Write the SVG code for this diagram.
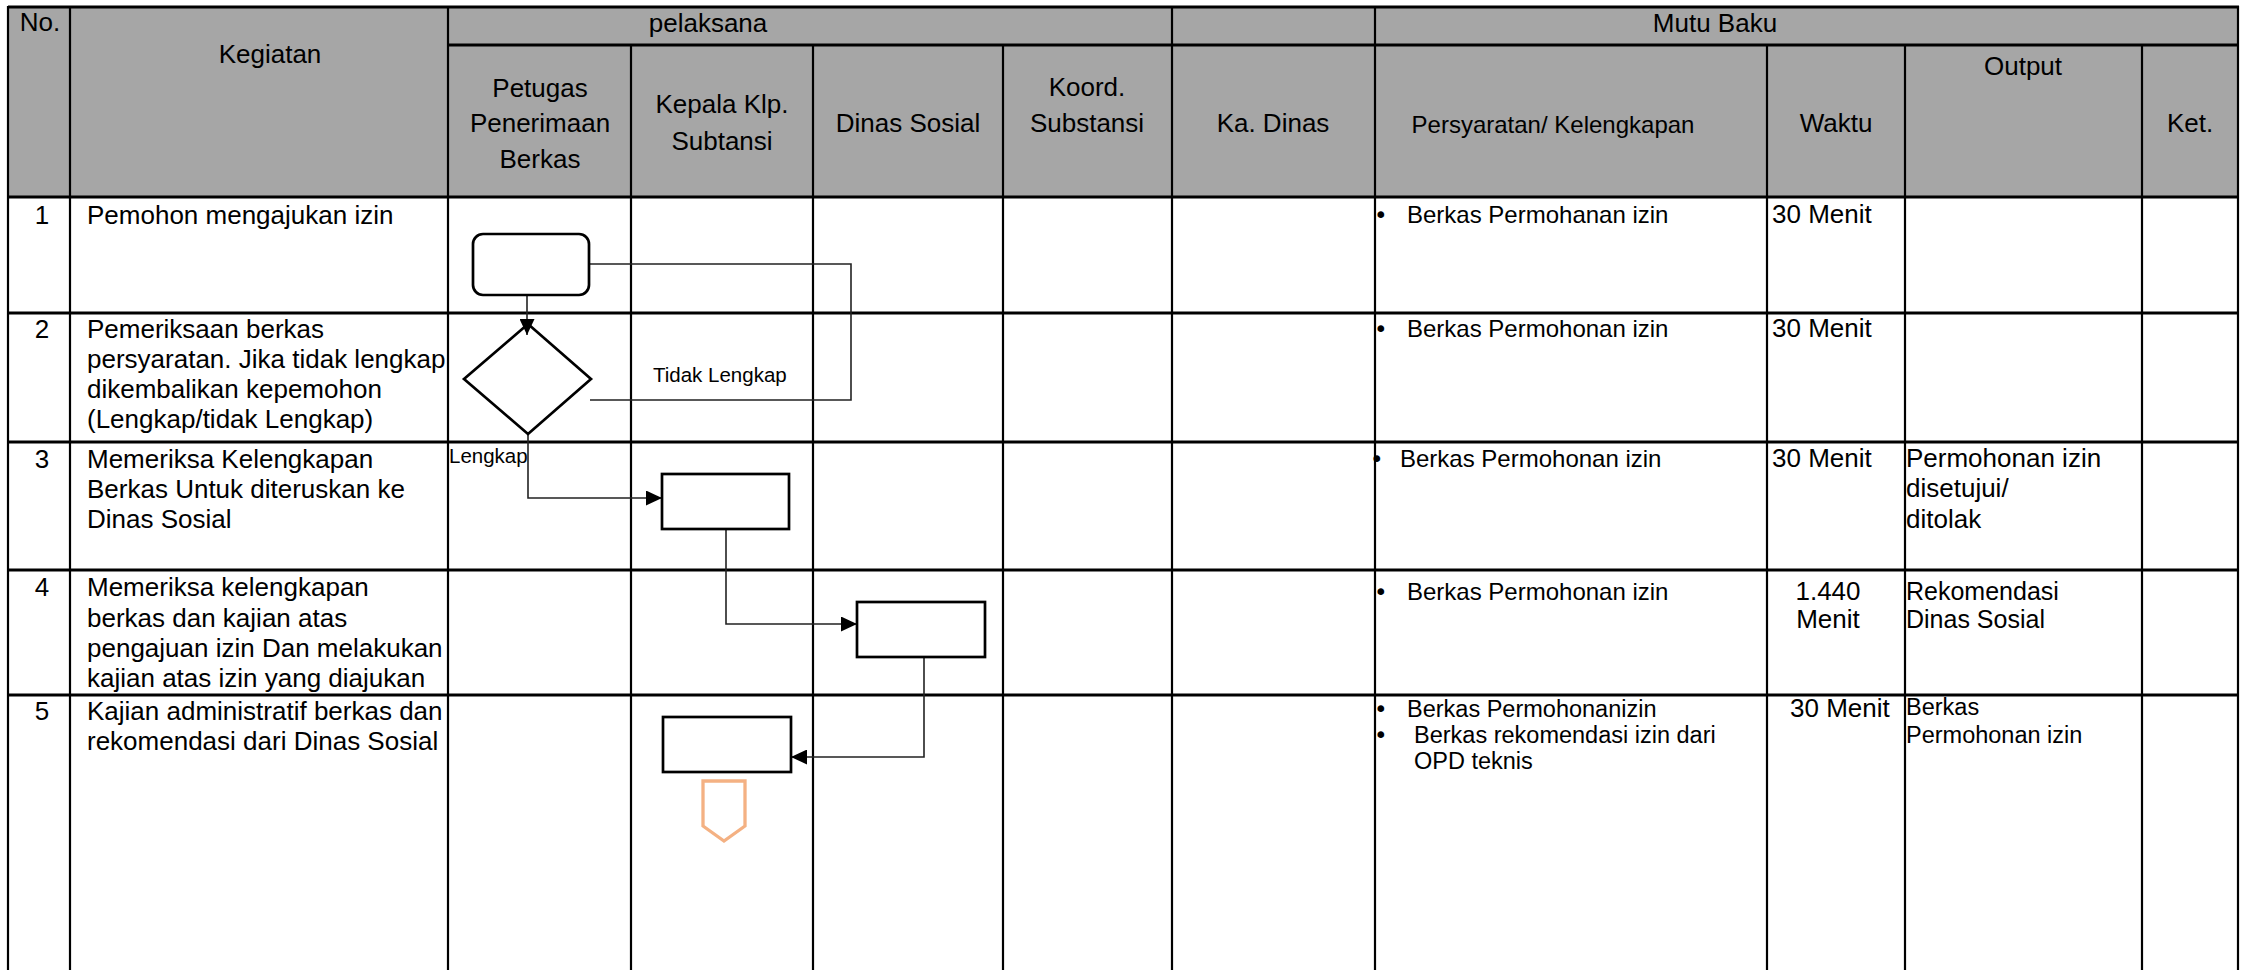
<svg xmlns="http://www.w3.org/2000/svg" width="2244" height="970" viewBox="0 0 2244 970">
<style>
.h{stroke:#000;stroke-width:3;fill:none}
.v{stroke:#000;stroke-width:2.2;fill:none}
text{font-family:"Liberation Sans",Arial,sans-serif;fill:#000}
.t{font-size:26px}
.hd{font-size:26px;text-anchor:middle}
.s24{font-size:24px}
.s23{font-size:23.5px}
.b{font-family:"DejaVu Sans",sans-serif;font-size:23px}
.lbl{font-size:20.5px}
.c{text-anchor:middle}
.shape{fill:#fff;stroke:#000;stroke-width:2.7}
.conn{fill:none;stroke:#222;stroke-width:1.6}
</style>
<defs>
<marker id="arr" markerUnits="userSpaceOnUse" markerWidth="16" markerHeight="15" refX="16" refY="7.5" orient="auto">
<path d="M0,0 L16,7.5 L0,15 z" fill="#000"/>
</marker>
<clipPath id="kclip"><rect x="70" y="197" width="377" height="773"/></clipPath>
</defs>
<rect x="0" y="0" width="2244" height="970" fill="#fff"/>
<rect x="8" y="7" width="2230" height="190" fill="#A6A6A6"/>

<g id="grid">
<line class="h" x1="8" y1="7" x2="2239" y2="7"/>
<line class="h" x1="448" y1="45" x2="2239" y2="45"/>
<line class="h" x1="8" y1="197" x2="2239" y2="197"/>
<line class="h" x1="8" y1="313" x2="2239" y2="313"/>
<line class="h" x1="8" y1="442" x2="2239" y2="442"/>
<line class="h" x1="8" y1="570" x2="2239" y2="570"/>
<line class="h" x1="8" y1="695" x2="2239" y2="695"/>
<line class="v" x1="8" y1="6" x2="8" y2="970"/>
<line class="v" x1="70" y1="6" x2="70" y2="970"/>
<line class="v" x1="448" y1="6" x2="448" y2="970"/>
<line class="v" x1="631" y1="45" x2="631" y2="970"/>
<line class="v" x1="813" y1="45" x2="813" y2="970"/>
<line class="v" x1="1003" y1="45" x2="1003" y2="970"/>
<line class="v" x1="1172" y1="6" x2="1172" y2="970"/>
<line class="v" x1="1375" y1="6" x2="1375" y2="970"/>
<line class="v" x1="1767" y1="45" x2="1767" y2="970"/>
<line class="v" x1="1905" y1="45" x2="1905" y2="970"/>
<line class="v" x1="2142" y1="45" x2="2142" y2="970"/>
<line class="v" x1="2238" y1="6" x2="2238" y2="970"/>
</g>

<g id="header">
<text class="hd" x="40" y="31">No.</text>
<text class="hd" x="270" y="63">Kegiatan</text>
<text class="hd" x="708" y="32">pelaksana</text>
<text class="hd" x="1715" y="32">Mutu Baku</text>
<text class="hd" x="540" y="97">Petugas</text>
<text class="hd" x="540" y="132">Penerimaan</text>
<text class="hd" x="540" y="168">Berkas</text>
<text class="hd" x="722" y="113">Kepala Klp.</text>
<text class="hd" x="722" y="150">Subtansi</text>
<text class="hd" x="908" y="132">Dinas Sosial</text>
<text class="hd" x="1087" y="96">Koord.</text>
<text class="hd" x="1087" y="132">Substansi</text>
<text class="hd" x="1273" y="132">Ka. Dinas</text>
<text class="hd s24" x="1553" y="133">Persyaratan/ Kelengkapan</text>
<text class="hd" x="1836" y="132">Waktu</text>
<text class="hd" x="2023" y="75">Output</text>
<text class="hd" x="2190" y="132">Ket.</text>
</g>

<g id="numbers">
<text class="t c" x="42" y="224">1</text>
<text class="t c" x="42" y="338">2</text>
<text class="t c" x="42" y="468">3</text>
<text class="t c" x="42" y="596">4</text>
<text class="t c" x="42" y="720">5</text>
</g>

<g id="kegiatan" clip-path="url(#kclip)">
<text class="t" x="87" y="224">Pemohon mengajukan izin</text>
<text class="t" x="87" y="338">Pemeriksaan berkas</text>
<text class="t" x="87" y="368">persyaratan. Jika tidak lengkap</text>
<text class="t" x="87" y="398">dikembalikan kepemohon</text>
<text class="t" x="87" y="428">(Lengkap/tidak Lengkap)</text>
<text class="t" x="87" y="468">Memeriksa Kelengkapan</text>
<text class="t" x="87" y="498">Berkas Untuk diteruskan ke</text>
<text class="t" x="87" y="528">Dinas Sosial</text>
<text class="t" x="87" y="596">Memeriksa kelengkapan</text>
<text class="t" x="87" y="627">berkas dan kajian atas</text>
<text class="t" x="87" y="657">pengajuan izin Dan melakukan</text>
<text class="t" x="87" y="687">kajian atas izin yang diajukan</text>
<text class="t" x="87" y="720">Kajian administratif berkas dan</text>
<text class="t" x="87" y="750">rekomendasi dari Dinas Sosial</text>
</g>

<g id="persyaratan">
<text class="b" x="1374" y="223">•</text>
<text class="s24" x="1407" y="223">Berkas Permohanan izin</text>
<text class="b" x="1374" y="337">•</text>
<text class="s24" x="1407" y="337">Berkas Permohonan izin</text>
<text class="b" x="1370" y="467">•</text>
<text class="s24" x="1400" y="467">Berkas Permohonan izin</text>
<text class="b" x="1374" y="600">•</text>
<text class="s24" x="1407" y="600">Berkas Permohonan izin</text>
<text class="b" x="1374" y="717">•</text>
<text class="s23" x="1407" y="717">Berkas Permohonanizin</text>
<text class="b" x="1374" y="743">•</text>
<text class="s23" x="1414" y="743">Berkas rekomendasi izin dari</text>
<text class="s23" x="1414" y="769">OPD teknis</text>
</g>

<g id="waktu">
<text class="t" x="1772" y="223">30 Menit</text>
<text class="t" x="1772" y="337">30 Menit</text>
<text class="t" x="1772" y="467">30 Menit</text>
<text class="t c" x="1828" y="600">1.440</text>
<text class="t c" x="1828" y="628">Menit</text>
<text class="t" x="1790" y="717">30 Menit</text>
</g>

<g id="output">
<text class="t" x="1906" y="467">Permohonan izin</text>
<text class="t" x="1906" y="497">disetujui/</text>
<text class="t" x="1906" y="528">ditolak</text>
<text style="font-size:25px" x="1906" y="600">Rekomendasi</text>
<text style="font-size:25px" x="1906" y="628">Dinas Sosial</text>
<text class="s23" x="1906" y="715">Berkas</text>
<text class="s23" x="1906" y="743">Permohonan izin</text>
</g>

<g id="connectors">
<line class="conn" x1="527" y1="295" x2="527" y2="335" marker-end="url(#arr)"/>
<polyline class="conn" points="589,264 851,264 851,400 590,400"/>
<polyline class="conn" points="528,435 528,498 662,498" marker-end="url(#arr)"/>
<polyline class="conn" points="726,529 726,624 857,624" marker-end="url(#arr)"/>
<polyline class="conn" points="924,657 924,757 791,757" marker-end="url(#arr)"/>
<text class="lbl" x="653" y="382">Tidak Lengkap</text>
<text class="lbl" x="449" y="463">Lengkap</text>
</g>

<g id="n1-start"><rect class="shape" x="473" y="234" width="116" height="61" rx="10" ry="10"/></g>
<g id="n2-decision"><polygon class="shape" points="528,324 591,379 528,434 464,379" style="fill:none"/></g>
<g id="n3-kepala"><rect class="shape" x="662" y="474" width="127" height="55"/></g>
<g id="n4-dinsos"><rect class="shape" x="857" y="602" width="128" height="55"/></g>
<g id="n5-kajian"><rect class="shape" x="663" y="717" width="128" height="55"/></g>
<g id="n6-offpage"><polygon points="703,781 745,781 745,826 724,841 703,826" fill="#fff" stroke="#F4B183" stroke-width="3.3"/></g>
</svg>
